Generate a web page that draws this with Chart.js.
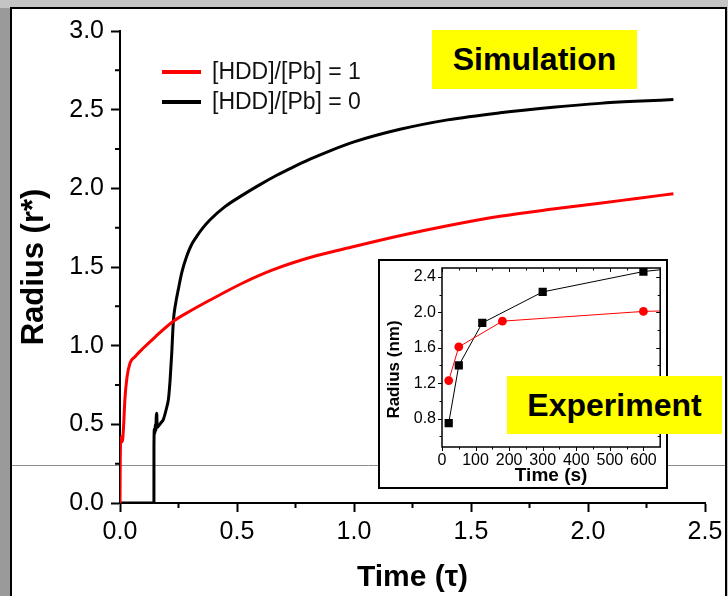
<!DOCTYPE html>
<html>
<head>
<meta charset="utf-8">
<script src="https://cdn.jsdelivr.net/npm/chart.js@4.4.1/dist/chart.umd.min.js"></script>
<style>
  html, body { margin: 0; padding: 0; background: #c4c4c4; }
  #wrap { position: relative; width: 728px; height: 596px; overflow: hidden; }
  #main { position: absolute; left: 0; top: 0; }
  #insetBox { position: absolute; left: 378px; top: 259px; width: 290px; height: 230px;
              border: 2px solid #000; box-sizing: border-box; background: #fff; }
  #insetCanvas { position: absolute; left: 0; top: 0; }
  .tag { position: absolute; background: #ffff00; color: #000;
         font: bold 32px 'Liberation Sans', Arial, sans-serif;
         display: flex; align-items: center; justify-content: center; }
</style>
</head>
<body>
<div id="wrap">
  <canvas id="main" width="728" height="596"></canvas>
  <div id="insetBox"><canvas id="insetCanvas" width="286" height="226"></canvas></div>
  <div class="tag" style="left:432px; top:30px; width:205px; height:59px;">Simulation</div>
  <div class="tag" style="left:507px; top:376px; width:215px; height:58px;">Experiment</div>
</div>
<script>
// ---- Simulation: reduced radius r* versus reduced time τ ----
const seriesLabels = ['[HDD]/[Pb] = 1', '[HDD]/[Pb] = 0'];
const seriesColors = ['#ff0000', '#000000'];

const simTime1 = [0, 0.001, 0.003, 0.006, 0.01, 0.015, 0.021, 0.03, 0.043, 0.064, 0.1, 0.15, 0.228,
  0.3, 0.385, 0.527, 0.65, 0.812, 1.0, 1.2, 1.4, 1.624, 1.85, 2.05, 2.2, 2.365];
const simRadius1 = [0, 0.25, 0.40, 0.42, 0.39, 0.48, 0.66, 0.80, 0.89, 0.93, 0.985, 1.055, 1.155,
  1.22, 1.29, 1.40, 1.48, 1.56, 1.63, 1.70, 1.762, 1.822, 1.868, 1.905, 1.934, 1.966];

const simTime0 = [0, 0.145, 0.1451, 0.147, 0.149, 0.151, 0.153, 0.155, 0.157, 0.159, 0.165, 0.175,
  0.185, 0.2, 0.207, 0.214, 0.221, 0.228, 0.238, 0.249, 0.265, 0.285, 0.305, 0.328, 0.355, 0.385,
  0.45, 0.527, 0.6, 0.67, 0.74, 0.812, 0.9, 1.0, 1.197, 1.4, 1.624, 1.85, 2.05, 2.2, 2.365];
const simRadius0 = [0, 0, 0.36, 0.47, 0.44, 0.50, 0.46, 0.55, 0.57, 0.48, 0.49, 0.51,
  0.53, 0.61, 0.66, 0.78, 0.95, 1.155, 1.27, 1.356, 1.47, 1.568, 1.64, 1.695, 1.75, 1.80,
  1.885, 1.96, 2.025, 2.083, 2.135, 2.185, 2.24, 2.295, 2.375, 2.435, 2.48, 2.515, 2.54, 2.553, 2.564];

const mainXTicks = [0, 0.5, 1.0, 1.5, 2.0, 2.5];
const mainYTicks = [0, 0.5, 1.0, 1.5, 2.0, 2.5, 3.0];

// ---- Experiment: measured radius (nm) versus time (s) ----
const expTime1 = [20, 50, 180, 600, 900];
const expRadius1 = [1.23, 1.61, 1.90, 2.01, 2.04];
const expTime0 = [20, 50, 120, 300, 600, 900];
const expRadius0 = [0.75, 1.40, 1.88, 2.23, 2.46, 2.58];

const insetXTicks = [0, 100, 200, 300, 400, 500, 600];
const insetYTicks = [0.8, 1.2, 1.6, 2.0, 2.4];
const insetYTitle = 'Radius (nm)';

const FONT = "'Liberation Sans', Arial, sans-serif";
Chart.defaults.font.family = FONT;
Chart.defaults.color = '#000';

const toPoints = (xs, ys) => xs.map((x, i) => ({ x, y: ys[i] }));
const setTicks = list => scale => { scale.ticks = list.map(v => ({ value: v })); };
const midpoints = list => list.slice(1).map((v, i) => (v + list[i]) / 2);
// keep the plot area exactly where the layout padding puts it
const fixSize = (prop, size) => s => {
  s[prop] = size;
  s.paddingTop = 0; s.paddingBottom = 0; s.paddingLeft = 0; s.paddingRight = 0;
};

// page background, white panel and its border, plus the faint horizontal rule
const framePlugin = {
  id: 'frame',
  beforeDraw(chart) {
    const c = chart.ctx;
    c.save();
    c.fillStyle = '#c4c4c4'; c.fillRect(0, 0, 728, 596);
    c.fillStyle = '#9a9a9a'; c.fillRect(0, 8, 11, 588);
    c.fillStyle = '#ffffff'; c.fillRect(11, 8, 715, 588);
    c.strokeStyle = '#000'; c.lineWidth = 2;
    c.beginPath(); c.moveTo(11, 596); c.lineTo(11, 8); c.lineTo(726, 8); c.lineTo(726, 596); c.stroke();
    c.strokeStyle = '#8c8c8c'; c.lineWidth = 1;
    c.beginPath(); c.moveTo(12, 465.5); c.lineTo(725, 465.5); c.stroke();
    c.restore();
  }
};

// minor tick marks halfway between the labelled ticks
const minorTicksPlugin = {
  id: 'minorTicks',
  afterDraw(chart, args, opts) {
    const c = chart.ctx, xs = chart.scales.x, ys = chart.scales.y, a = chart.chartArea;
    c.save();
    c.strokeStyle = '#000'; c.lineWidth = opts.width;
    c.beginPath();
    midpoints(opts.xTicks).forEach(v => {
      const px = xs.getPixelForValue(v);
      c.moveTo(px, a.bottom); c.lineTo(px, a.bottom + opts.len);
    });
    midpoints(opts.yTicks).forEach(v => {
      const py = ys.getPixelForValue(v);
      c.moveTo(a.left - opts.len, py); c.lineTo(a.left, py);
    });
    c.stroke();
    c.restore();
  }
};

// legend drawn inside the plot area
const legendPlugin = {
  id: 'insideLegend',
  afterDraw(chart) {
    const c = chart.ctx;
    c.save();
    c.font = '23px ' + FONT;
    c.textBaseline = 'middle';
    chart.data.datasets.forEach((ds, i) => {
      const y = 72 + i * 30;
      c.strokeStyle = ds.borderColor; c.lineWidth = 4;
      c.beginPath(); c.moveTo(162, y); c.lineTo(201, y); c.stroke();
      c.fillStyle = '#111';
      c.fillText(ds.label, 212, y + 1);
    });
    c.restore();
  }
};

new Chart(document.getElementById('main'), {
  type: 'line',
  data: {
    datasets: [
      { label: seriesLabels[0], data: toPoints(simTime1, simRadius1), borderColor: seriesColors[0],
        borderWidth: 3, pointRadius: 0, cubicInterpolationMode: 'monotone', fill: false },
      { label: seriesLabels[1], data: toPoints(simTime0, simRadius0), borderColor: seriesColors[1],
        borderWidth: 3, pointRadius: 0, cubicInterpolationMode: 'monotone', fill: false }
    ]
  },
  options: {
    responsive: false,
    animation: false,
    devicePixelRatio: 1,
    layout: { padding: { left: 0, right: 23, top: 31, bottom: 0 } },
    plugins: {
      legend: { display: false },
      tooltip: { enabled: false },
      minorTicks: { xTicks: mainXTicks, yTicks: mainYTicks, len: 5, width: 2 }
    },
    scales: {
      x: {
        type: 'linear', min: 0, max: 2.5,
        afterBuildTicks: setTicks(mainXTicks),
        afterFit: s => { s.height = 93; },
        border: { display: true, color: '#000', width: 2 },
        grid: { drawOnChartArea: false, drawTicks: true, tickLength: 9, tickWidth: 2, tickColor: '#000' },
        ticks: { font: { size: 25 }, padding: 5, maxRotation: 0, callback: v => v.toFixed(1) },
        title: { display: true, text: 'Time (τ)', font: { size: 30, weight: 'bold' }, padding: { top: 0, bottom: 0 } }
      },
      y: {
        type: 'linear', min: 0, max: 3.0,
        afterBuildTicks: setTicks(mainYTicks),
        afterFit: s => { s.width = 120; },
        border: { display: true, color: '#000', width: 2 },
        grid: { drawOnChartArea: false, drawTicks: true, tickLength: 9, tickWidth: 2, tickColor: '#000' },
        ticks: { font: { size: 25 }, padding: 7, callback: v => v.toFixed(1) },
        title: { display: true, text: 'Radius (r*)', font: { size: 31, weight: 'bold' }, padding: { top: 16, bottom: 0 } }
      }
    }
  },
  plugins: [framePlugin, minorTicksPlugin, legendPlugin]
});

// ---- inset: experimental data ----
const boxPlugin = {
  id: 'plotBox',
  afterDraw(chart) {
    const c = chart.ctx, a = chart.chartArea, xs = chart.scales.x, ys = chart.scales.y;
    c.save();
    c.strokeStyle = '#000'; c.lineWidth = 1.5;
    c.strokeRect(a.left, a.top, a.right - a.left, a.bottom - a.top);
    c.lineWidth = 1;
    c.beginPath();
    const xAll = insetXTicks.concat(midpoints(insetXTicks));
    xAll.forEach(v => {
      const px = Math.round(xs.getPixelForValue(v)) + 0.5;
      const major = insetXTicks.includes(v);
      c.moveTo(px, a.bottom); c.lineTo(px, a.bottom + (major ? 4 : 2.5));
      c.moveTo(px, a.top); c.lineTo(px, a.top + (major ? 4 : 2.5));
    });
    const yAll = [0.6].concat(insetYTicks, midpoints(insetYTicks));
    yAll.forEach(v => {
      const py = Math.round(ys.getPixelForValue(v)) + 0.5;
      const major = insetYTicks.includes(v);
      c.moveTo(a.left - (major ? 4 : 2.5), py); c.lineTo(a.left, py);
      c.moveTo(a.right, py); c.lineTo(a.right - (major ? 4 : 2.5), py);
    });
    c.stroke();
    // vertical axis title, set a little below the middle of the axis
    c.font = 'bold 17px ' + FONT;
    c.textAlign = 'center'; c.textBaseline = 'middle';
    c.translate(14, (a.top + a.bottom) / 2 + 12);
    c.rotate(-Math.PI / 2);
    c.fillStyle = '#000';
    c.fillText(insetYTitle, 0, 0);
    c.restore();
  }
};

new Chart(document.getElementById('insetCanvas'), {
  type: 'line',
  data: {
    datasets: [
      { label: seriesLabels[0], data: toPoints(expTime1, expRadius1), borderColor: seriesColors[0],
        backgroundColor: seriesColors[0], borderWidth: 1, pointStyle: 'circle', pointRadius: 4.4,
        pointBorderWidth: 0, tension: 0 },
      { label: seriesLabels[1], data: toPoints(expTime0, expRadius0), borderColor: seriesColors[1],
        backgroundColor: seriesColors[1], borderWidth: 1, pointStyle: 'rect', pointRadius: 5.8,
        pointBorderWidth: 0, tension: 0 }
    ]
  },
  options: {
    responsive: false,
    animation: false,
    devicePixelRatio: 1,
    layout: { padding: { left: 0, right: 3, top: 7, bottom: 0 } },
    plugins: { legend: { display: false }, tooltip: { enabled: false } },
    scales: {
      x: {
        type: 'linear', min: 0, max: 650,
        afterBuildTicks: setTicks(insetXTicks),
        afterFit: fixSize('height', 40),
        border: { display: false },
        grid: { display: false, drawTicks: false },
        ticks: { font: { size: 16 }, padding: 4, maxRotation: 0, autoSkip: false },
        title: { display: true, text: 'Time (s)', font: { size: 19, weight: 'bold' }, padding: { top: 0, bottom: 0 } }
      },
      y: {
        type: 'linear', min: 0.48, max: 2.5,
        afterBuildTicks: setTicks(insetYTicks),
        afterFit: fixSize('width', 62),
        border: { display: false },
        grid: { display: false, drawTicks: false },
        ticks: { font: { size: 16 }, padding: 6, callback: v => v.toFixed(1) },
        title: { display: false }
      }
    }
  },
  plugins: [boxPlugin]
});
</script>
</body>
</html>
